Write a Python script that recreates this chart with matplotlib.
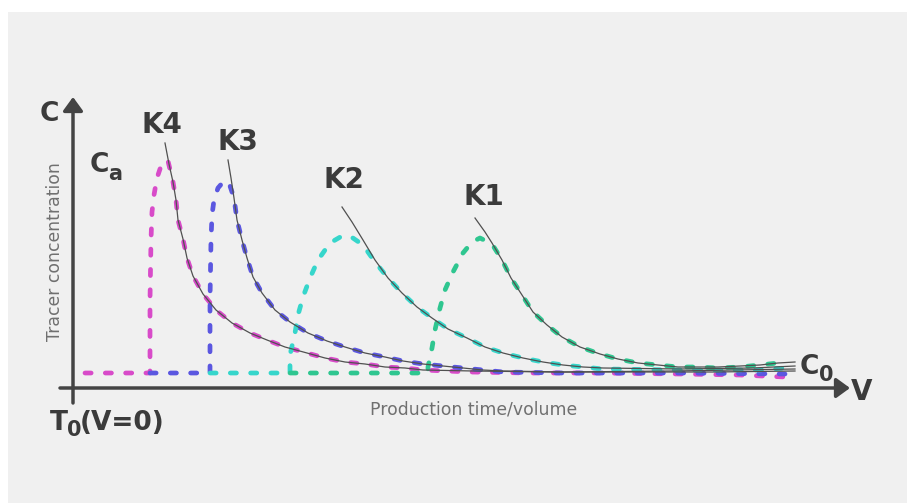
import matplotlib
matplotlib.use("Agg")
import matplotlib.pyplot as plt
from matplotlib.patches import Rectangle

# volume (x) and tracer concentration (y), arbitrary units
k4_v = [12, 77, 77, 78, 79, 81, 84, 88, 93, 95, 100, 103, 105, 110, 114, 120, 130, 143, 159,
        177, 194, 212, 234, 252, 272, 292, 312, 332, 350, 397, 457, 527, 607, 667, 712]
k4_c = [15, 15, 88, 148, 176, 193, 210, 222, 228, 227, 206, 188, 168, 149, 130, 112, 94, 78, 65,
        55, 48, 41, 35, 30, 26, 24, 21, 20, 18, 16, 15, 15, 14, 13, 11]

k3_v = [77, 137, 137, 138, 139, 141, 145, 151, 156, 161, 164, 169, 174, 180, 189, 202, 217,
        235, 254, 272, 292, 312, 330, 350, 370, 390, 410, 430, 490, 607, 712]
k3_c = [15, 15, 88, 148, 173, 188, 200, 207, 205, 190, 168, 148, 130, 111, 95, 78, 66,
        55, 47, 41, 35, 31, 27, 24, 22, 20, 18, 16, 15, 15, 14]

k2_v = [137, 217, 217, 222, 225, 230, 237, 245, 257, 269, 277, 290, 302, 315, 329, 344, 359,
        375, 394, 412, 430, 450, 470, 490, 510, 530, 607, 687, 712]
k2_c = [15, 15, 33, 55, 73, 91, 110, 128, 145, 152, 152, 143, 126, 110, 95, 81, 70,
        59, 50, 41, 35, 30, 26, 23, 21, 19, 18, 18, 20]

k1_v = [217, 355, 355, 359, 362, 367, 372, 380, 390, 399, 407, 419, 429, 438, 449, 460, 474,
        489, 507, 527, 545, 565, 585, 605, 624, 645, 667, 687, 705]
k1_c = [15, 15, 21, 40, 58, 80, 98, 116, 135, 146, 150, 144, 128, 110, 93, 76, 63,
        51, 41, 34, 29, 25, 23, 21, 21, 20, 21, 23, 25]

# thin black decay fits
fit4_v = [92, 96, 100, 103, 105, 110, 114, 120, 130, 143, 159, 177, 194, 212, 234, 252, 272,
          292, 312, 332, 350, 400, 480, 560, 640, 722]
fit4_c = [245, 224, 206, 188, 168, 149, 130, 112, 94, 78, 65, 55, 48, 41, 35, 30, 26,
          24, 21, 20, 18, 17, 16, 16, 16, 17]
fit3_v = [155, 158, 161, 164, 169, 174, 180, 189, 202, 217, 235, 254, 272, 292, 312, 330, 350,
          370, 390, 410, 430, 490, 600, 722]
fit3_c = [228, 210, 190, 168, 148, 130, 111, 95, 78, 66, 55, 47, 41, 35, 31, 27, 24,
          22, 20, 18, 17, 16, 17, 19]
fit2_v = [269, 279, 290, 302, 315, 329, 344, 359, 375, 394, 412, 430, 450, 470, 490, 510, 530,
          607, 680, 722]
fit2_c = [181, 166, 148, 128, 110, 95, 81, 70, 59, 50, 41, 35, 30, 26, 23, 21, 20,
          19, 20, 22]
fit1_v = [402, 412, 419, 429, 438, 449, 460, 474, 489, 507, 527, 545, 565, 585, 605, 624, 645,
          667, 687, 705, 722]
fit1_c = [170, 156, 145, 128, 110, 93, 76, 63, 51, 41, 34, 29, 25, 23, 21, 21, 21,
          22, 23, 25, 26]

W, H = 907, 503
dark = '#3b3b3b'
axc = '#444444'
grey = '#707070'

fig = plt.figure(figsize=(W / 100, H / 100), dpi=100, facecolor='white')
fig.patches.append(Rectangle((8 / W, 0), 1 - 8 / W, (H - 12) / H, transform=fig.transFigure,
                             facecolor='#f0f0f0', edgecolor='none', zorder=-5))

ax = fig.add_axes([73 / W, (H - 388) / H, 777 / W, 293 / H])
ax.set_xlim(0, 777)
ax.set_ylim(0, 293)
ax.axis('off')
ax.patch.set_alpha(0)
ax.set_zorder(2)

# axes with arrows
arr = dict(arrowstyle='-|>,head_length=0.55,head_width=0.4', lw=2.5, color=axc,
           mutation_scale=15, shrinkA=0, shrinkB=0)
ax.annotate('', xy=(0, 291), xytext=(0, -15), arrowprops=arr, annotation_clip=False)
ax.annotate('', xy=(777, 0), xytext=(-13, 0), arrowprops=arr, annotation_clip=False)

curves = [(k4_v, k4_c, '#d84bc9'), (k3_v, k3_c, '#5b57e0'),
          (k2_v, k2_c, '#36d6cb'), (k1_v, k1_c, '#2fc690')]
for v, c, col in curves:
    ax.plot(v, c, color=col, lw=3.4, dashes=(1.3, 3.0), dash_capstyle='round',
            solid_capstyle='round', clip_on=False, zorder=3)

for v, c in [(fit4_v, fit4_c), (fit3_v, fit3_c), (fit2_v, fit2_c), (fit1_v, fit1_c)]:
    ax.plot(v, c, color='#505050', lw=0.9, clip_on=False, zorder=4)


def lab(x, y, s, size=20, **kw):
    fig.text(x / W, 1 - y / H, s, fontsize=size, fontweight='bold', color=dark,
             ha='left', va='baseline', **kw)


lab(40, 121, 'C', 19)
lab(90, 172, 'C', 19)
lab(108, 180, 'a', 15)
lab(142, 133, 'K4')
lab(217, 150, 'K3')
lab(323, 188, 'K2')
lab(463, 205, 'K1')
lab(800, 374, 'C', 19)
lab(819, 381, '0', 15)
lab(851, 400, 'V')
lab(50, 430, 'T', 19)
lab(67, 436, '0', 15)
lab(80, 430, '(V=0)', 19)

fig.text(474 / W, 1 - 415 / H, 'Production time/volume', fontsize=12.4, color=grey,
         ha='center', va='baseline')
fig.text(55 / W, 1 - 252 / H, 'Tracer concentration', fontsize=12.4, color=grey,
         ha='center', va='center', rotation=90)

fig.savefig('out.png', dpi=100, facecolor=fig.get_facecolor())
